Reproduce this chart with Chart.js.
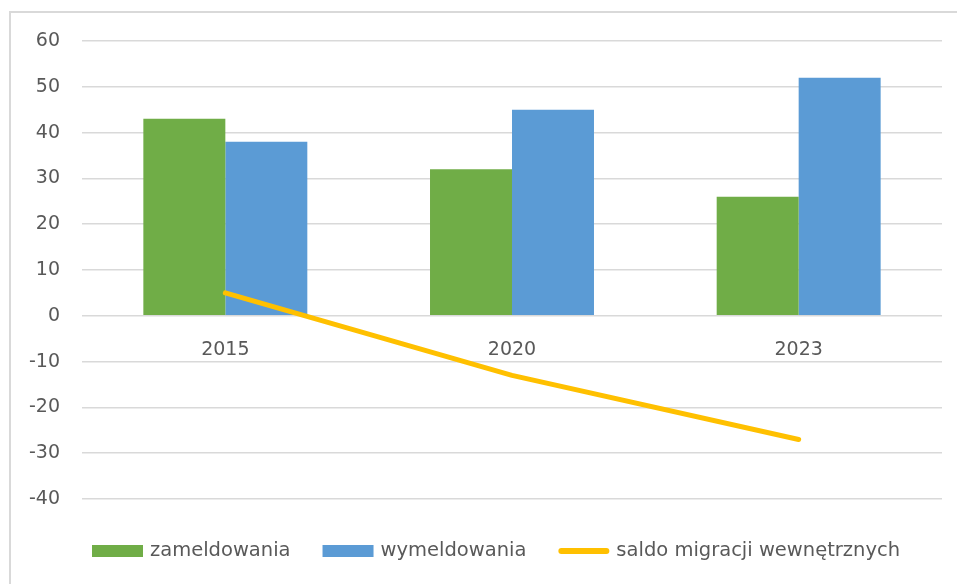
<!DOCTYPE html>
<html>
<head>
<meta charset="utf-8">
<script src="https://cdn.jsdelivr.net/npm/chart.js@4.4.1/dist/chart.umd.min.js"></script>
<style>
  html, body { margin: 0; padding: 0; background: #ffffff; overflow: hidden; }
  #wrap { position: absolute; left: 0; top: 0; width: 957px; height: 584px; }
</style>
</head>
<body>
<div id="wrap"><canvas id="c" width="957" height="584"></canvas></div>
<script>
const categories = ['2015', '2020', '2023'];
const zameldowania = [43, 32, 26];
const wymeldowania = [38, 45, 52];
const saldo = [5, -13, -27];
const seriesNames = ['zameldowania', 'wymeldowania', 'saldo migracji wewnętrznych'];
const yTicks = { min: -40, max: 60, step: 10 };

const GREEN = '#70AD47', BLUE = '#5B9BD5', GOLD = '#FFC000';
const FONT = 'DejaVu Sans';
const TEXT = '#595959';

const frameAndLegend = {
  id: 'frameAndLegend',
  beforeDraw(chart) {
    const ctx = chart.ctx;
    ctx.save();
    ctx.fillStyle = '#ffffff';
    ctx.fillRect(0, 0, chart.width, chart.height);
    ctx.strokeStyle = '#D9D9D9';
    ctx.lineWidth = 2;
    ctx.beginPath();
    ctx.moveTo(10, chart.height + 5);
    ctx.lineTo(10, 12);
    ctx.lineTo(chart.width + 5, 12);
    ctx.stroke();
    ctx.restore();
  },
  afterDraw(chart) {
    const ctx = chart.ctx;
    ctx.save();
    ctx.font = '19.5px "' + FONT + '"';
    ctx.textBaseline = 'middle';
    ctx.fillStyle = TEXT;
    const y = 551;
    let x = 92;
    const keyW = 51, keyH = 12, gapText = 7, gapItem = 32;
    chart.data.datasets.forEach((ds) => {
      if (ds.type === 'line') {
        ctx.strokeStyle = ds.borderColor;
        ctx.lineWidth = 6;
        ctx.lineCap = 'round';
        ctx.beginPath();
        ctx.moveTo(x + 3, y);
        ctx.lineTo(x + keyW - 3, y);
        ctx.stroke();
      } else {
        ctx.fillStyle = ds.backgroundColor;
        ctx.fillRect(x, y - keyH / 2, keyW, keyH);
      }
      x += keyW + gapText;
      ctx.fillStyle = TEXT;
      ctx.fillText(ds.label, x, y);
      x += ctx.measureText(ds.label).width + gapItem;
    });
    ctx.restore();
  }
};

new Chart(document.getElementById('c'), {
  type: 'bar',
  data: {
    labels: categories,
    datasets: [
      { label: seriesNames[0], data: zameldowania, backgroundColor: GREEN, order: 2 },
      { label: seriesNames[1], data: wymeldowania, backgroundColor: BLUE, order: 2 },
      { type: 'line', label: seriesNames[2], data: saldo, borderColor: GOLD, backgroundColor: GOLD,
        borderWidth: 5, pointRadius: 0, tension: 0, borderCapStyle: 'round', borderJoinStyle: 'round', order: 0 }
    ]
  },
  options: {
    responsive: false,
    animation: false,
    layout: { padding: { left: 0, right: 15, top: 41, bottom: 85 } },
    datasets: { bar: { barPercentage: 1, categoryPercentage: 0.572 } },
    plugins: { legend: { display: false }, tooltip: { enabled: false } },
    scales: {
      x: {
        position: { y: 0 },
        grid: { display: false },
        border: { display: false },
        ticks: { color: TEXT, font: { family: FONT, size: 19 }, padding: 15 }
      },
      y: {
        min: yTicks.min, max: yTicks.max,
        afterFit: (s) => { s.width = 82; },
        grid: { color: '#D9D9D9', lineWidth: 1.5, drawTicks: false },
        border: { display: false },
        ticks: { stepSize: yTicks.step, color: TEXT, font: { family: FONT, size: 19 }, padding: 22 }
      }
    }
  },
  plugins: [frameAndLegend]
});
</script>
</body>
</html>
